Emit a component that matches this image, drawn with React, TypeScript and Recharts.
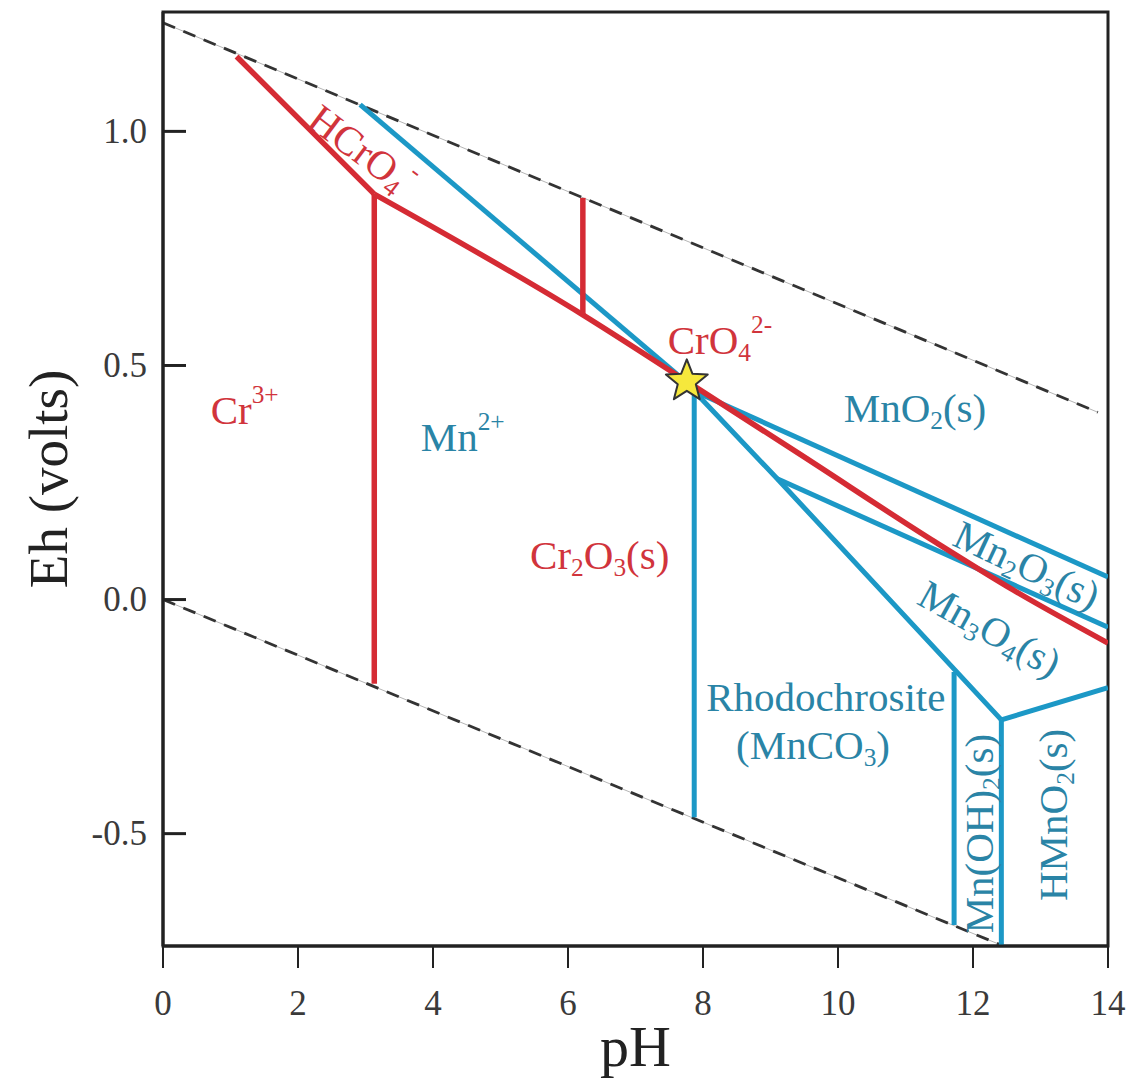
import React from 'react';
import { ComposedChart, Line, Scatter, XAxis, YAxis, ReferenceDot, ReferenceArea, Label } from 'recharts';

// stability field boundaries (pH, Eh in volts)
const waterUpper = [{ ph: 0, eh: 1.232 }, { ph: 13.85, eh: 0.4 }];
const waterLower = [{ ph: 0, eh: 0.0 }, { ph: 12.45, eh: -0.74 }];

const crHCrO4Upper = [{ ph: 1.09, eh: 1.16 }, { ph: 3.13, eh: 0.866 }];
const crCr3Vertical = [{ ph: 3.13, eh: 0.866 }, { ph: 3.13, eh: -0.18 }];
const crMain = [
  { ph: 3.13, eh: 0.866 },
  { ph: 6.22, eh: 0.608 },
  { ph: 7.76, eh: 0.466 },
  { ph: 9.44, eh: 0.31 },
  { ph: 11.45, eh: 0.122 },
  { ph: 12.6, eh: 0.02 },
  { ph: 14, eh: -0.093 },
];
const crHCrO4Vertical = [{ ph: 6.22, eh: 0.858 }, { ph: 6.22, eh: 0.608 }];

const mnMnO2 = [{ ph: 2.92, eh: 1.057 }, { ph: 7.87, eh: 0.45 }];
const mnCarbonate = [{ ph: 7.87, eh: 0.445 }, { ph: 7.87, eh: -0.465 }];
const mnMn2O3Upper = [{ ph: 7.87, eh: 0.445 }, { ph: 14, eh: 0.048 }];
const mnSteep = [{ ph: 7.87, eh: 0.445 }, { ph: 9.1, eh: 0.258 }, { ph: 12.42, eh: -0.257 }];
const mnMn3O4 = [{ ph: 9.1, eh: 0.258 }, { ph: 14, eh: -0.059 }];
const mnHMnO2 = [{ ph: 12.42, eh: -0.257 }, { ph: 14, eh: -0.188 }];
const mnOHRight = [{ ph: 12.42, eh: -0.257 }, { ph: 12.42, eh: -0.74 }];
const mnOHLeft = [{ ph: 11.72, eh: -0.155 }, { ph: 11.72, eh: -0.695 }];

const starPoint = [{ ph: 7.76, eh: 0.466 }];

const phTicks = [0, 2, 4, 6, 8, 10, 12, 14];
const ehTicks = [-0.5, 0, 0.5, 1.0];

const RED = '#d52b34';
const BLUE = '#1c98c6';
const RED_TEXT = '#d1343c';
const BLUE_TEXT = '#2a84a6';
const FONT = '"Liberation Serif", "Times New Roman", serif';

type Seg = { t: string; s?: 'sub' | 'sup' };

const regionLabels: { key: string; segs: Seg[]; ph: number; eh: number; color: string; rot?: number }[] = [
  { key: 'hcro4', segs: [{ t: 'HCrO' }, { t: '4', s: 'sub' }, { t: '-', s: 'sup' }], ph: 2.95, eh: 0.96, color: RED_TEXT, rot: 37 },
  { key: 'cr3', segs: [{ t: 'Cr' }, { t: '3+', s: 'sup' }], ph: 1.21, eh: 0.405, color: RED_TEXT },
  { key: 'mn2', segs: [{ t: 'Mn' }, { t: '2+', s: 'sup' }], ph: 4.44, eh: 0.347, color: BLUE_TEXT },
  { key: 'cro4', segs: [{ t: 'CrO' }, { t: '4', s: 'sub' }, { t: '2-', s: 'sup' }], ph: 8.25, eh: 0.554, color: RED_TEXT },
  { key: 'mno2', segs: [{ t: 'MnO' }, { t: '2', s: 'sub' }, { t: '(s)' }], ph: 11.14, eh: 0.409, color: BLUE_TEXT },
  { key: 'cr2o3', segs: [{ t: 'Cr' }, { t: '2', s: 'sub' }, { t: 'O' }, { t: '3', s: 'sub' }, { t: '(s)' }], ph: 6.47, eh: 0.095, color: RED_TEXT },
  { key: 'mn2o3', segs: [{ t: 'Mn' }, { t: '2', s: 'sub' }, { t: 'O' }, { t: '3', s: 'sub' }, { t: '(s)' }], ph: 12.8, eh: 0.074, color: BLUE_TEXT, rot: 25 },
  { key: 'mn3o4', segs: [{ t: 'Mn' }, { t: '3', s: 'sub' }, { t: 'O' }, { t: '4', s: 'sub' }, { t: '(s)' }], ph: 12.25, eh: -0.062, color: BLUE_TEXT, rot: 29 },
  { key: 'rhodo', segs: [{ t: 'Rhodochrosite' }], ph: 9.82, eh: -0.208, color: BLUE_TEXT },
  { key: 'mnco3', segs: [{ t: '(MnCO' }, { t: '3', s: 'sub' }, { t: ')' }], ph: 9.63, eh: -0.311, color: BLUE_TEXT },
  { key: 'mnoh2', segs: [{ t: 'Mn(OH)' }, { t: '2', s: 'sub' }, { t: '(s)' }], ph: 12.09, eh: -0.5, color: BLUE_TEXT, rot: -90 },
  { key: 'hmno2', segs: [{ t: 'HMnO' }, { t: '2', s: 'sub' }, { t: '(s)' }], ph: 13.19, eh: -0.46, color: BLUE_TEXT, rot: -90 },
];

const RichText = (props: any) => {
  const { viewBox, segs, color, rot = 0, size = 41 } = props;
  if (!viewBox) return null;
  const x = viewBox.x + (viewBox.width || 0) / 2;
  const y = viewBox.y + (viewBox.height || 0) / 2;
  let prev = 0;
  return (
    <text
      x={x}
      y={y}
      fill={color}
      fontSize={size}
      fontFamily={FONT}
      textAnchor="middle"
      dominantBaseline="central"
      transform={rot ? `rotate(${rot} ${x} ${y})` : undefined}
    >
      {segs.map((sg: Seg, i: number) => {
        const off = sg.s === 'sub' ? size * 0.28 : sg.s === 'sup' ? -size * 0.4 : 0;
        const dy = off - prev;
        prev = off;
        return (
          <tspan key={i} dy={dy} fontSize={sg.s ? size * 0.62 : size}>
            {sg.t}
          </tspan>
        );
      })}
    </text>
  );
};

const YTick = ({ x, y, payload }: any) => (
  <g>
    <line x1={x} x2={x + 23} y1={y} y2={y} stroke="#222" strokeWidth={3} />
    <text x={x - 16} y={y} textAnchor="end" dominantBaseline="central" fontSize={35} fontFamily={FONT} fill="#3a3a3a">
      {Number(payload.value).toFixed(1)}
    </text>
  </g>
);

const XTick = ({ x, y, payload }: any) => (
  <g>
    <line x1={x} x2={x} y1={y} y2={y + 22} stroke="#222" strokeWidth={2} />
    <text x={x} y={y + 57} textAnchor="middle" dominantBaseline="central" fontSize={35} fontFamily={FONT} fill="#3a3a3a">
      {payload.value}
    </text>
  </g>
);

const Star = ({ cx, cy }: any) => {
  const pts: string[] = [];
  for (let i = 0; i < 10; i++) {
    const r = i % 2 === 0 ? 22 : 9.5;
    const a = -Math.PI / 2 + (i * Math.PI) / 5;
    pts.push(`${cx + r * Math.cos(a)},${cy + r * Math.sin(a)}`);
  }
  return <polygon points={pts.join(' ')} fill="#f6e83c" stroke="#333" strokeWidth={2} strokeLinejoin="round" />;
};

const seg = (key: string, data: { ph: number; eh: number }[], color: string, width: number, curve: 'linear' | 'monotone' = 'linear') => (
  <Line
    key={key}
    data={data}
    dataKey="eh"
    type={curve}
    stroke={color}
    strokeWidth={width}
    strokeLinejoin="round"
    dot={false}
    activeDot={false}
    isAnimationActive={false}
  />
);

export default function App() {
  return (
    <div style={{ width: 1120, height: 1073, background: '#fff' }}>
      <ComposedChart width={1120} height={1073} margin={{ top: 4, right: 20, left: 95, bottom: 65 }}>
        <XAxis
          dataKey="ph"
          type="number"
          domain={[0, 14]}
          ticks={phTicks}
          allowDataOverflow
          height={70}
          tickSize={0}
          tickMargin={0}
          tickLine={false}
          tick={<XTick />}
          axisLine={{ stroke: '#222', strokeWidth: 3 }}
        >
          <Label
            content={({ viewBox }: any) => (
              <text x={viewBox.x + viewBox.width / 2} y={viewBox.y + 120} textAnchor="middle" fontSize={58} fontFamily={FONT} fill="#222">
                pH
              </text>
            )}
          />
        </XAxis>
        <YAxis
          type="number"
          domain={[-0.74, 1.255]}
          ticks={ehTicks}
          allowDataOverflow
          width={60}
          tickSize={0}
          tickMargin={0}
          tickLine={false}
          tick={<YTick />}
          axisLine={{ stroke: '#222', strokeWidth: 3 }}
        >
          <Label
            content={({ viewBox }: any) => {
              const cx = 40;
              const cy = viewBox.y + viewBox.height / 2;
              return (
                <text x={cx} y={cy} textAnchor="middle" dominantBaseline="central" fontSize={55} fontFamily={FONT} fill="#222" transform={`rotate(-90 ${cx} ${cy})`}>
                  Eh (volts)
                </text>
              );
            }}
          />
        </YAxis>
        <ReferenceArea x1={0} x2={14} y1={-0.74} y2={1.255} fill="none" stroke="#222" strokeWidth={3} ifOverflow="visible" />

        {seg('wu-thin', waterUpper, '#b5b5b5', 1)}
        {seg('wl-thin', waterLower, '#b5b5b5', 1)}
        <Line data={waterUpper} dataKey="eh" type="linear" stroke="#333" strokeWidth={2.8} strokeDasharray="13 9" dot={false} activeDot={false} isAnimationActive={false} />
        <Line data={waterLower} dataKey="eh" type="linear" stroke="#333" strokeWidth={2.8} strokeDasharray="13 9" dot={false} activeDot={false} isAnimationActive={false} />

        {seg('mn1', mnMnO2, BLUE, 5)}
        {seg('mn2', mnCarbonate, BLUE, 5)}
        {seg('mn3', mnMn2O3Upper, BLUE, 5)}
        {seg('mn4', mnSteep, BLUE, 5)}
        {seg('mn5', mnMn3O4, BLUE, 5)}
        {seg('mn6', mnHMnO2, BLUE, 5)}
        {seg('mn7', mnOHRight, BLUE, 5)}
        {seg('mn8', mnOHLeft, BLUE, 5)}

        {seg('cr1', crHCrO4Upper, RED, 5.5)}
        {seg('cr2', crCr3Vertical, RED, 5.5)}
        {seg('cr3', crMain, RED, 5.5, 'monotone')}
        {seg('cr4', crHCrO4Vertical, RED, 5.5)}

        <Scatter data={starPoint} dataKey="eh" shape={<Star />} isAnimationActive={false} />

        {regionLabels.map((l) => (
          <ReferenceDot
            key={l.key}
            x={l.ph}
            y={l.eh}
            r={0}
            fill="none"
            stroke="none"
            label={<RichText segs={l.segs} color={l.color} rot={l.rot} />}
          />
        ))}
      </ComposedChart>
    </div>
  );
}
